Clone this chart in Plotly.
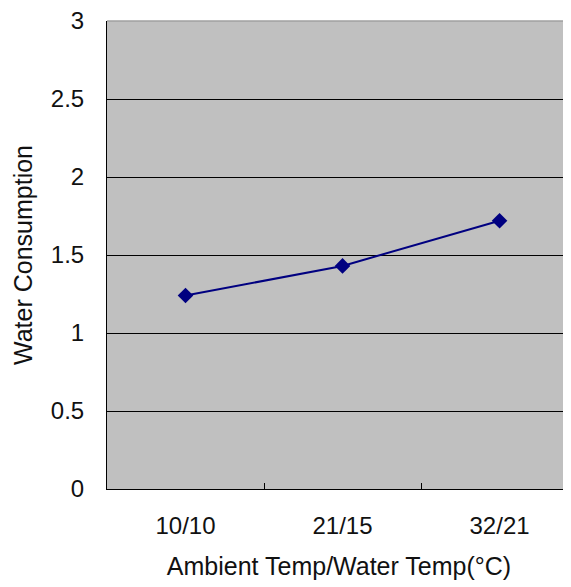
import plotly.graph_objects as go

categories = ["10/10", "21/15", "32/21"]
water_consumption = [1.24, 1.43, 1.72]
y_ticks = [0, 0.5, 1, 1.5, 2, 2.5, 3]
y_labels = ["0", "0.5", "1", "1.5", "2", "2.5", "3"]

navy = "#000080"
font = "Liberation Sans, Arial, sans-serif"

fig = go.Figure()
fig.add_trace(go.Scatter(
    x=categories, y=water_consumption, mode="lines+markers",
    line=dict(color=navy, width=2),
    marker=dict(symbol="diamond", size=12, color=navy),
    showlegend=False,
))

# page body has an 8px margin, so the figure is sized to fit inside the window
fig.update_layout(
    width=563, height=579,
    margin=dict(l=99, r=0, t=13, b=98),
    paper_bgcolor="white", plot_bgcolor="#c0c0c0",
    font=dict(family=font, size=24, color="#111111"),
    xaxis=dict(
        type="category", range=[-0.5, 2.455], tickson="boundaries",
        ticks="inside", ticklen=6, tickcolor="black", tickwidth=1,
        showgrid=False, showline=True, linecolor="black", linewidth=1,
        ticklabelstandoff=15, zeroline=False,
        title=dict(text="Ambient Temp/Water Temp(°C)", standoff=19, font=dict(size=25)),
    ),
    yaxis=dict(
        range=[0, 3], tickvals=y_ticks, ticktext=y_labels,
        ticks="inside", ticklen=8, tickcolor="black", tickwidth=1,
        showgrid=True, gridcolor="black", gridwidth=1,
        showline=True, linecolor="black", linewidth=1, zeroline=False,
        ticklabelstandoff=17, ticklabeloverflow="allow",
        title=dict(text="Water Consumption", standoff=11, font=dict(size=25)),
    ),
    shapes=[dict(type="line", xref="paper", yref="paper", x0=0.0, x1=1, y0=1, y1=1,
                 line=dict(color="#a0a0a0", width=1.5), layer="above")],
)

fig.write_html("out.html")
